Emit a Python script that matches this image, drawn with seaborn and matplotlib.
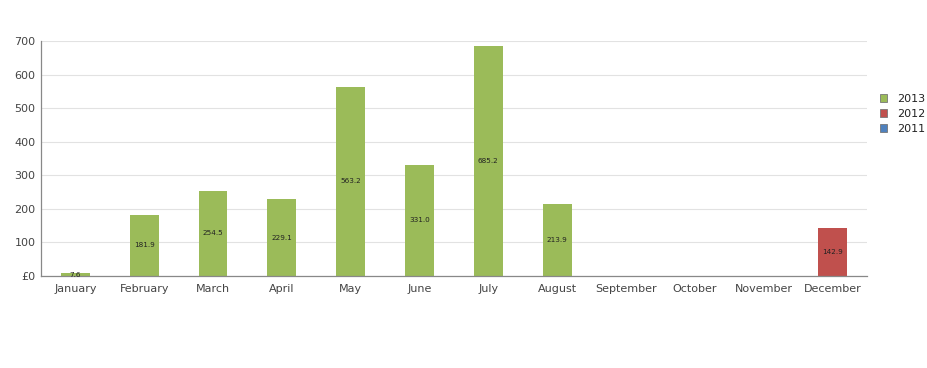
import pandas as pd
import seaborn as sns
import matplotlib.pyplot as plt
from matplotlib.patches import Patch
from matplotlib.ticker import FuncFormatter

# data
months = ['January', 'February', 'March', 'April', 'May', 'June', 'July',
          'August', 'September', 'October', 'November', 'December']
sales_2013 = [7.6, 181.9, 254.5, 229.1, 563.2, 331.0, 685.2, 213.9, 0, 0, 0, 0]
sales_2012 = [0, 0, 0, 0, 0, 0, 0, 0, 0, 0, 0, 142.9]
sales_2011 = [0, 0, 0, 0, 0, 0, 0, 0, 0, 0, 0, 0]
years = ['2013', '2012', '2011']
colors = {'2013': '#9BBB59', '2012': '#C0504D', '2011': '#4F81BD'}

df = pd.DataFrame({
    'month': months * 3,
    'year': ['2013'] * 12 + ['2012'] * 12 + ['2011'] * 12,
    'value': sales_2013 + sales_2012 + sales_2011,
})

sns.set_style('white')
plt.rcParams['font.family'] = ['DejaVu Sans']

fig = plt.figure(figsize=(9.27, 3.68), dpi=100)
ax = fig.add_axes([0.0442, 0.25, 0.8908, 0.6386])

# only one year is non-zero per month, so overlaid bars look like a stack
sns.barplot(data=df, x='month', y='value', hue='year', order=months,
            hue_order=years, palette=colors, dodge=False, width=0.42,
            saturation=1, linewidth=0, edgecolor='none', ax=ax, legend=False)

for cont in ax.containers:
    labels = [f'{b.get_height():.1f}' if b.get_height() > 0 else '' for b in cont]
    ax.bar_label(cont, labels=labels, label_type='center', fontsize=5.2,
                 color='#222222')

ax.set_ylim(0, 700)
ax.set_yticks(range(0, 701, 100))
ax.yaxis.set_major_formatter(FuncFormatter(lambda v, p: '£0' if v == 0 else f'{v:.0f}'))
ax.set_xlabel('')
ax.set_ylabel('')
ax.grid(axis='y', color='#e2e2e2', linewidth=0.8)
ax.set_axisbelow(True)
ax.tick_params(axis='both', length=0, labelsize=8, labelcolor='#444444')
ax.tick_params(axis='x', pad=6)
ax.tick_params(axis='y', pad=4)
for s in ['top', 'right']:
    ax.spines[s].set_visible(False)
for s in ['left', 'bottom']:
    ax.spines[s].set_color('#888888')
    ax.spines[s].set_linewidth(0.9)

handles = [Patch(facecolor=colors[y], edgecolor='#777777', linewidth=0.6, label=y)
           for y in years]
fig.legend(handles=handles, loc='upper left', bbox_to_anchor=(0.943, 0.761),
           frameon=False, fontsize=8, handlelength=0.7, handleheight=0.7,
           handletextpad=0.9, labelspacing=0.45, borderpad=0, labelcolor='#222222')

fig.savefig('out.png', dpi=100)
